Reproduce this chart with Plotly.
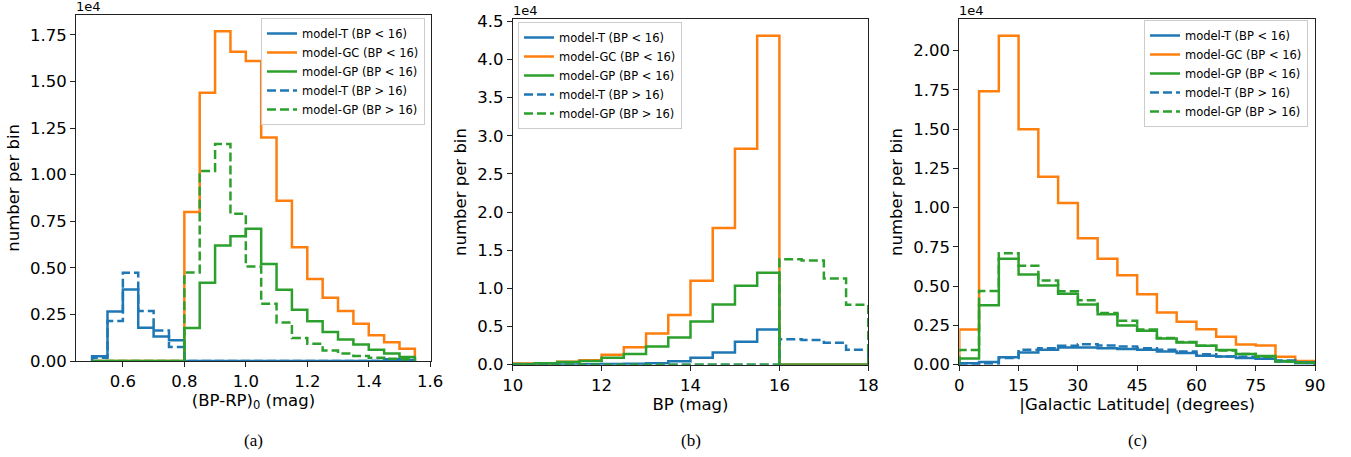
import plotly.graph_objects as go

# ---------------- data (counts per bin, in units of 1e4) ----------------
A_EDGES = [0.50, 0.55, 0.60, 0.65, 0.70, 0.75, 0.80, 0.85, 0.90, 0.95, 1.00,
           1.05, 1.10, 1.15, 1.20, 1.25, 1.30, 1.35, 1.40, 1.45, 1.50, 1.55]
a_T_lo = [0.025, 0.266, 0.384, 0.179, 0.132, 0.111, 0, 0, 0, 0, 0,
          0, 0, 0, 0, 0, 0, 0, 0, 0.005, 0]
a_GC_lo = [0, 0, 0, 0, 0, 0, 0.80, 1.44, 1.77, 1.66, 1.61,
           1.20, 0.86, 0.61, 0.44, 0.34, 0.268, 0.20, 0.138, 0.10, 0.066]
a_GP_lo = [0, 0, 0, 0, 0, 0, 0.177, 0.42, 0.62, 0.67, 0.71,
           0.52, 0.382, 0.275, 0.213, 0.155, 0.115, 0.088, 0.061, 0.04, 0.021]
a_T_hi = [0.018, 0.214, 0.473, 0.268, 0.164, 0.075, 0, 0, 0, 0, 0,
          0, 0, 0, 0, 0, 0, 0, 0, 0.01, 0.005]
a_GP_hi = [0, 0, 0, 0, 0, 0, 0.475, 1.02, 1.165, 0.79, 0.507,
           0.307, 0.207, 0.123, 0.093, 0.057, 0.04, 0.027, 0.018, 0.012, 0.01]

B_EDGES = [10.0, 10.5, 11.0, 11.5, 12.0, 12.5, 13.0, 13.5, 14.0,
           14.5, 15.0, 15.5, 16.0, 16.5, 17.0, 17.5, 18.0]
b_T_lo = [0.003, 0.003, 0.004, 0.005, 0.008, 0.012, 0.02, 0.045,
          0.09, 0.16, 0.30, 0.46, 0, 0, 0, 0]
b_GC_lo = [0.015, 0.02, 0.04, 0.057, 0.13, 0.23, 0.41, 0.65,
           1.10, 1.79, 2.83, 4.31, 0, 0, 0, 0]
b_GP_lo = [0.01, 0.02, 0.035, 0.05, 0.09, 0.14, 0.24, 0.355,
           0.565, 0.79, 1.035, 1.205, 0, 0, 0, 0]
b_T_hi = [0, 0, 0, 0, 0, 0, 0, 0, 0, 0, 0, 0, 0.333, 0.324, 0.289, 0.197]
b_GP_hi = [0, 0, 0, 0, 0, 0, 0, 0, 0, 0, 0, 0, 1.383, 1.366, 1.13, 0.784]

C_EDGES = [0, 5, 10, 15, 20, 25, 30, 35, 40, 45, 50, 55, 60, 65, 70, 75, 80, 85, 90]
c_T_lo = [0.01, 0.017, 0.048, 0.078, 0.095, 0.11, 0.11, 0.105, 0.10,
          0.095, 0.084, 0.074, 0.057, 0.053, 0.042, 0.038, 0.02, 0.01]
c_GC_lo = [0.224, 1.742, 2.095, 1.50, 1.197, 1.03, 0.805, 0.674, 0.569,
           0.448, 0.332, 0.273, 0.226, 0.178, 0.129, 0.123, 0.05, 0.023]
c_GP_lo = [0.04, 0.378, 0.674, 0.575, 0.505, 0.452, 0.383, 0.321, 0.25,
           0.216, 0.167, 0.142, 0.12, 0.093, 0.068, 0.055, 0.023, 0.015]
c_T_hi = [0.005, 0.008, 0.042, 0.095, 0.105, 0.12, 0.13, 0.122, 0.116,
          0.105, 0.095, 0.084, 0.067, 0.053, 0.05, 0.04, 0.027, 0.015]
c_GP_hi = [0.093, 0.47, 0.71, 0.63, 0.537, 0.467, 0.41, 0.33, 0.28,
           0.224, 0.17, 0.145, 0.12, 0.09, 0.068, 0.05, 0.02, 0.012]

NAMES = ["model-T (BP < 16)", "model-GC (BP < 16)", "model-GP (BP < 16)",
         "model-T (BP > 16)", "model-GP (BP > 16)"]
COLORS = ["#1f77b4", "#ff7f0e", "#2ca02c", "#1f77b4", "#2ca02c"]
DASHES = ["solid", "solid", "solid", "9px,4px", "9px,4px"]

X_TITLES = ["(BP-RP)<sub>0</sub> (mag)", "BP (mag)", "|Galactic Latitude| (degrees)"]
CAPTIONS = ["(a)", "(b)", "(c)"]

# ---------------- helpers ----------------
def step_xy(edges, vals):
    # matplotlib 'step' histogram outline using plotly 'hv' line shape
    xs = [edges[0]] + list(edges[:-1]) + [edges[-1], edges[-1]]
    ys = [0] + list(vals) + [vals[-1], 0]
    return xs, ys

panels = [
    (A_EDGES, [a_T_lo, a_GC_lo, a_GP_lo, a_T_hi, a_GP_hi]),
    (B_EDGES, [b_T_lo, b_GC_lo, b_GP_lo, b_T_hi, b_GP_hi]),
    (C_EDGES, [c_T_lo, c_GC_lo, c_GP_lo, c_T_hi, c_GP_hi]),
]

W, H = 1351, 457
x_dom = [[76 / W, 431 / W], [512.7 / W, 868.3 / W], [959.3 / W, 1315 / W]]
y_dom = [[1 - 361 / H, 1 - 14.7 / H], [1 - 364.7 / H, 1 - 19.3 / H], [1 - 364.7 / H, 1 - 19.3 / H]]

fig = go.Figure()
FONT = "DejaVu Sans"

for p, (edges, series) in enumerate(panels):
    sfx = "" if p == 0 else str(p + 1)
    for k, vals in enumerate(series):
        xs, ys = step_xy(edges, vals)
        fig.add_trace(go.Scatter(
            x=xs, y=ys, mode="lines", line_shape="hv",
            name=NAMES[k],
            line=dict(color=COLORS[k], width=2.5, dash=DASHES[k]),
            xaxis="x" + sfx, yaxis="y" + sfx,
            legend="legend" + sfx,
            hoverinfo="skip",
        ))

axis_common = dict(
    automargin=False,
    showline=True, mirror=True, linecolor="#222222", linewidth=1,
    ticks="outside", ticklen=5, tickwidth=1, tickcolor="#222222",
    showgrid=False, zeroline=False,
    tickfont=dict(family=FONT, size=16.5, color="black"),
    title_font=dict(family=FONT, size=16.5, color="black"),
)

# x ranges: matplotlib 5% margins for (a); fixed limits for (b), (c)
a_pad = 0.05 * (A_EDGES[-1] - A_EDGES[0])
x_ranges = [[A_EDGES[0] - a_pad, A_EDGES[-1] + a_pad], [10, 18], [0, 90]]
y_max = [max(max(s) for s in series) * 1.05 for _, series in panels]
x_ticks = [dict(tick0=0.6, dtick=0.2, tickformat=".1f"),
           dict(tick0=10, dtick=2, tickformat="d"),
           dict(tick0=0, dtick=15, tickformat="d")]
y_ticks = [dict(tick0=0, dtick=0.25, tickformat=".2f"),
           dict(tick0=0, dtick=0.5, tickformat=".1f"),
           dict(tick0=0, dtick=0.25, tickformat=".2f")]

layout = dict(
    template="none",
    width=W, height=H,
    margin=dict(l=0, r=0, t=0, b=0, autoexpand=False),
    paper_bgcolor="white", plot_bgcolor="white",
    font=dict(family=FONT, color="black"),
    annotations=[],
)

legend_pos = [dict(x=425 / W, xanchor="right", y=1 - 18 / H, yanchor="top"),
              dict(x=518 / W, xanchor="left", y=1 - 22 / H, yanchor="top"),
              dict(x=1308 / W, xanchor="right", y=1 - 20 / H, yanchor="top")]

for p in range(3):
    sfx = "" if p == 0 else str(p + 1)
    layout["xaxis" + sfx] = dict(
        axis_common, domain=x_dom[p], anchor="y" + sfx, range=x_ranges[p],
        title=dict(text=X_TITLES[p], standoff=4), **x_ticks[p])
    layout["yaxis" + sfx] = dict(
        axis_common, domain=y_dom[p], anchor="x" + sfx, range=[0, y_max[p]],
        title=dict(text="number per bin", standoff=6), **y_ticks[p])
    layout["legend" + sfx] = dict(
        legend_pos[p], xref="paper", yref="paper",
        bgcolor="rgba(255,255,255,0.8)", bordercolor="#cccccc", borderwidth=1,
        font=dict(family=FONT, size=11.5, color="black"),
        itemwidth=30, tracegroupgap=0,
    )
    layout["annotations"].append(dict(
        text="1e4", xref="x" + sfx + " domain", yref="y" + sfx + " domain",
        x=0, y=1, xanchor="left", yanchor="bottom", showarrow=False,
        font=dict(family=FONT, size=13, color="black"), xshift=-2, yshift=-1))
    layout["annotations"].append(dict(
        text=CAPTIONS[p], xref="paper", yref="paper",
        x=(x_dom[p][0] + x_dom[p][1]) / 2, y=1 - 440 / H,
        xanchor="center", yanchor="middle", showarrow=False,
        font=dict(family="Liberation Serif", size=17, color="black")))

fig.update_layout(layout)
fig.write_html("out.html",
               config={"displayModeBar": False},
               post_script="document.body.style.margin='0';document.body.style.overflow='hidden';")
